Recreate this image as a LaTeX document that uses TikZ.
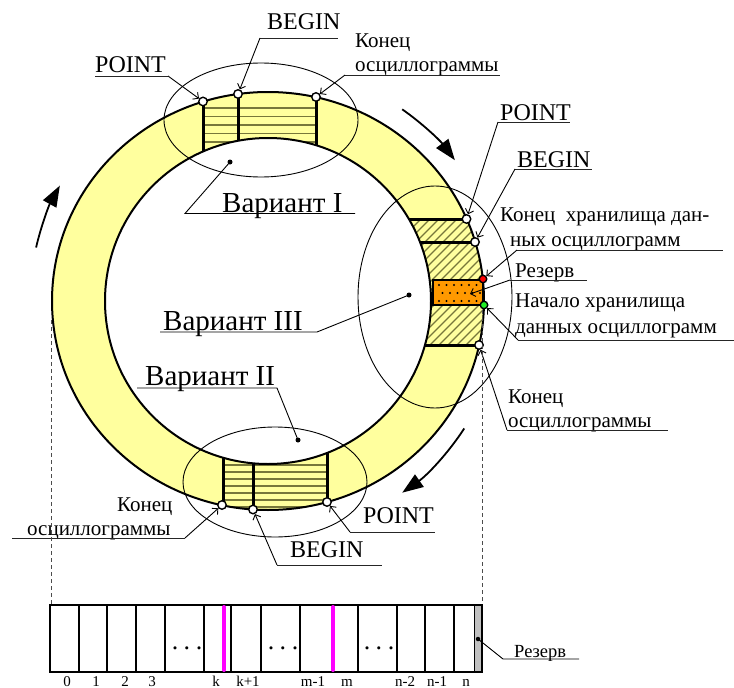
\documentclass[tikz,border=0pt]{standalone}
\usepackage{fontspec}
\setmainfont{Liberation Serif}
\usetikzlibrary{arrows.meta}
\definecolor{ringfill}{HTML}{FFFF9E}
\definecolor{stripe}{HTML}{77773A}
\definecolor{orangefill}{HTML}{FF9900}
\definecolor{magentaline}{HTML}{FF00FF}
\definecolor{reservegray}{HTML}{C0C0C0}
\definecolor{reddot}{HTML}{FF0000}
\definecolor{greendot}{HTML}{22EE22}
\tikzset{
  pin/.style={circle, draw, fill=white, line width=1.4pt, inner sep=0pt, minimum size=8.5pt},
  vdot/.style={circle, fill, inner sep=0pt, minimum size=5pt},
  lbl/.style={anchor=base west, inner sep=0pt, font=\fontsize{21}{25}\selectfont},
  big/.style={anchor=base west, inner sep=0pt, font=\fontsize{24}{28}\selectfont},
  var/.style={anchor=base west, inner sep=0pt, font=\fontsize{29}{34}\selectfont},
  lead/.style={line width=0.9pt, -{Straight Barb[angle=90:6pt]}},
  uline/.style={line width=1pt, draw=black!85},
  thinell/.style={line width=0.9pt},
  flow/.style={line width=1.8pt, -{Triangle[length=21pt,width=15pt]}},
  cell/.style={line width=2.8pt},
  dashline/.style={draw=black!70, line width=0.9pt, dash pattern=on 4pt off 3pt},
  idx/.style={anchor=base, inner sep=0pt, font=\fontsize{15}{17}\selectfont},
  dots/.style={anchor=base, inner sep=0pt, font=\fontsize{26}{26}\selectfont},
}
\begin{document}
\begin{tikzpicture}[x=1pt,y=1pt]
\useasboundingbox (0,0) rectangle (734,-688);
\coordinate (C) at (268,-301);
% ---- ring ----
\fill[ringfill] (C) ellipse[x radius=216, y radius=209];
\begin{scope}
  \clip (C) ellipse[x radius=216, y radius=209];
  % top stripes
  \begin{scope}
    \clip (203,-60) rectangle (316,-200);
    \foreach \y in {108,116.5,...,160} \draw[stripe, line width=1.5pt] (190,-\y) -- (330,-\y);
  \end{scope}
  % bottom stripes
  \begin{scope}
    \clip (223,-440) rectangle (327,-530);
    \foreach \y in {465,472,...,520} \draw[stripe, line width=1.5pt] (210,-\y) -- (340,-\y);
  \end{scope}
  % right hatching
  \begin{scope}
    \clip (380,-219) rectangle (500,-345);
    \foreach \x in {250,259,...,520} \draw[stripe, line width=1.1pt] (\x,-345) -- ++(130,130);
  \end{scope}
  % thick segment lines
  \foreach \x in {203,238,316} \draw[line width=3pt] (\x,-80) -- (\x,-175);
  \foreach \x in {223,253,327} \draw[line width=3pt] (\x,-430) -- (\x,-530);
  \foreach \y in {219,242,345} \draw[line width=3pt] (395,-\y) -- (500,-\y);
\end{scope}
\fill[white] (C) circle[radius=163];
\draw[line width=2pt] (C) circle[radius=163];
\draw[line width=2pt] (C) ellipse[x radius=216, y radius=209];
% reserve box
\draw[fill=orangefill, line width=1.8pt] (433,-280) rectangle (483,-305);
\foreach \y/\s in {285/0,293/3.5,301/0}
  \foreach \i in {0,...,5} \fill (439+\s+\i*7.5,-\y) circle[radius=1.1];
% ---- thin ellipses ----
\draw[thinell] (261,-120) ellipse[x radius=97, y radius=57];
\draw[thinell] (435,-297) ellipse[x radius=77, y radius=111];
\draw[thinell] (275,-482) ellipse[x radius=92, y radius=55];
% ---- pins ----
\node[pin] (tP) at (203,-101.5) {};
\node[pin] (tB) at (238,-94) {};
\node[pin] (tE) at (316,-97) {};
\node[pin] (rP) at (466.5,-219) {};
\node[pin] (rB) at (475,-242) {};
\node[pin, fill=reddot, minimum size=7.5pt] (rR) at (483,-279) {};
\node[pin, fill=greendot, minimum size=7.5pt] (rS) at (484,-305) {};
\node[pin] (rE) at (479,-345) {};
\node[pin] (bE) at (222,-505) {};
\node[pin] (bB) at (253,-509.5) {};
\node[pin] (bP) at (327,-502) {};
% ---- variant labels ----
\node[vdot] (d1) at (230,-162) {};
\node[vdot] (d3) at (409,-295) {};
\node[vdot] (d2) at (298,-440) {};
\node[var] (v1) at (222,-212) {Вариант I};
\node[var] (v3) at (163,-330) {Вариант III};
\node[var] (v2) at (145,-385) {Вариант II};
\draw[line width=0.9pt] (d1.center) -- (185,-213.5) -- (355,-213.5);
\draw[line width=0.9pt] (d3.center) -- (317,-332) -- (160,-332);
\draw[line width=0.9pt] (137,-388) -- (277,-388) -- (d2.center);
% ---- top labels ----
\node[big] (tPl) at (95,-72) {POINT};
\coordinate (utP) at (168,-76);
\draw[uline] (95,-76) -- (utP);
\draw[lead] (utP) -- (tP);
\node[big] (tBl) at (267,-30) {BEGIN};
\coordinate (utB) at (260,-38);
\draw[uline] (utB) -- (338,-38);
\draw[lead] (utB) -- (tB);
\node[lbl] (tEl1) at (355,-47) {Конец};
\node[lbl] (tEl2) at (355,-71) {осциллограммы};
\coordinate (utE) at (345,-75);
\draw[uline] (utE) -- (500,-75);
\draw[lead] (utE) -- (tE);
% ---- right labels ----
\node[big] (rPl) at (500,-120) {POINT};
\coordinate (urP) at (498,-122);
\draw[uline] (urP) -- (570,-122);
\draw[lead] (urP) -- (rP);
\node[big] (rBl) at (517,-167) {BEGIN};
\coordinate (urB) at (515,-169);
\draw[uline] (urB) -- (592,-169);
\draw[lead] (urB) -- (rB);
\node[lbl] (rRl1) at (500,-221) {Конец\ \ хранилища дан-};
\node[lbl] (rRl2) at (510,-246) {ных осциллограмм};
\coordinate (urR) at (517,-250);
\draw[uline] (urR) -- (723,-250);
\draw[lead] (urR) -- (rR);
\node[lbl] (rXl) at (515,-277) {Резерв};
\coordinate (urX) at (510,-280);
\coordinate (boxpt) at (470,-294);
\draw[uline] (urX) -- (587,-280);
\draw[lead] (urX) -- (boxpt);
\node[lbl] (rSl1) at (515,-307) {Начало хранилища};
\node[lbl] (rSl2) at (515,-333) {данных осциллограмм};
\coordinate (urS) at (518,-340);
\draw[uline] (urS) -- (734,-340);
\draw[lead] (urS) -- (rS);
\node[lbl] (rEl1) at (508,-403) {Конец};
\node[lbl] (rEl2) at (508,-427) {осциллограммы};
\coordinate (urE) at (507,-430);
\draw[uline] (urE) -- (668,-430);
\draw[lead] (urE) -- (rE);
% ---- bottom labels ----
\node[lbl] (bEl1) at (117,-511) {Конец};
\node[lbl] (bEl2) at (27,-535) {осциллограммы};
\coordinate (ubE) at (185,-538);
\draw[uline] (12,-538) -- (ubE);
\draw[lead] (ubE) -- (bE);
\node[big] (bBl) at (290,-557) {BEGIN};
\coordinate (ubB) at (277,-565);
\draw[uline] (ubB) -- (382,-565);
\draw[lead] (ubB) -- (bB);
\node[big] (bPl) at (363,-523) {POINT};
\coordinate (ubP) at (350,-532);
\draw[uline] (ubP) -- (435,-532);
\draw[lead] (ubP) -- (bP);
% ---- flow arrows ----
\draw[flow] (C) ++(55:234) arc[start angle=55, end angle=37, radius=234];
\draw[flow] (C) ++(167:238) arc[start angle=167, end angle=151, radius=238];
\draw[flow] (C) ++(-33:234) arc[start angle=-33, end angle=-55, radius=234];
% ---- dashed projections ----
\coordinate (bartl) at (51,-605);
\coordinate (bartr) at (482,-605);
\draw[dashline] (51,-320) -- (bartl);
\draw[dashline] (482,-310) -- (bartr);
% ---- memory bar ----
\fill[reservegray] (474,-605) rectangle (482,-672);
\draw[line width=0.8pt] (474,-605) -- (474,-672);
\foreach \x in {79,107,136,165,204,231,261,300,358,397,425,454}
  \draw[cell] (\x,-605) -- (\x,-672);
\draw[cell] (50,-605) rectangle (482,-672);
\draw[magentaline, line width=4pt, line cap=round] (224,-607) -- (224,-670);
\draw[magentaline, line width=4pt, line cap=round] (333,-607) -- (333,-670);
\node[dots] (e1) at (187,-649) {.\hspace{5.5pt}.\hspace{5.5pt}.};
\node[dots] (e2) at (283,-649) {.\hspace{5.5pt}.\hspace{5.5pt}.};
\node[dots] (e3) at (379,-649) {.\hspace{5.5pt}.\hspace{5.5pt}.};
\node[vdot, minimum size=4.5pt] (rd) at (478,-639) {};
\draw[line width=0.9pt] (rd.center) -- (503,-659) -- (579,-659);
\node[anchor=base west, inner sep=0pt, font=\fontsize{18.5}{20}\selectfont] (bRl) at (514,-657) {Резерв};
\foreach \x/\t in {67/0,96/1,125/2,152/3,216/k,248/k+1,313/m-1,347/m,405/n-2,437/n-1,466/n}
  \node[idx] at (\x,-686) {\t};
\end{tikzpicture}
\end{document}
